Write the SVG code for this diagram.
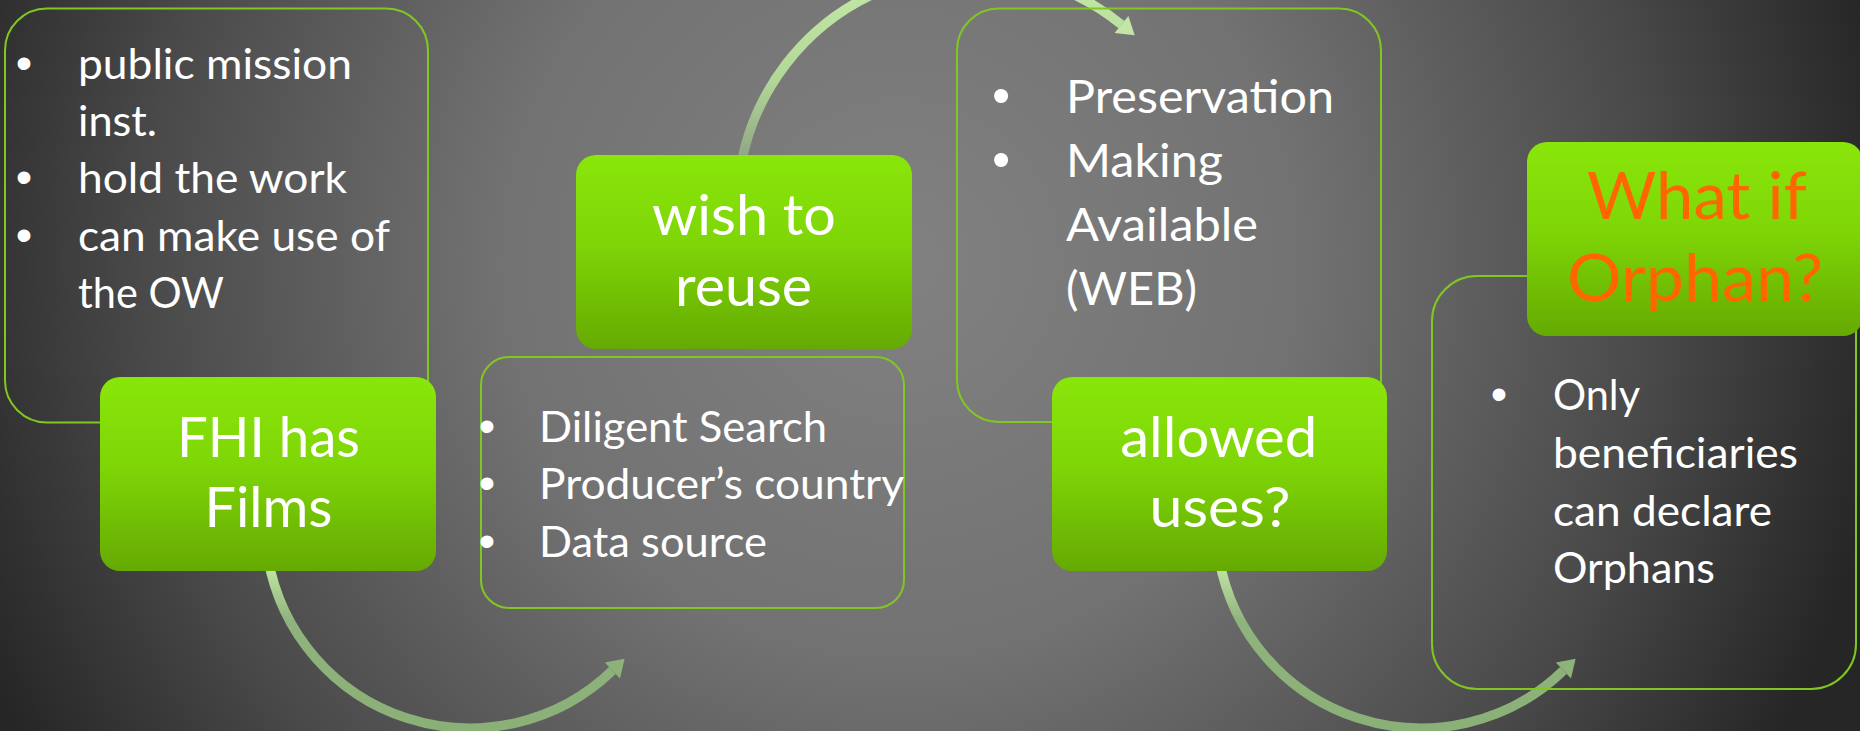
<svg xmlns="http://www.w3.org/2000/svg" width="1860" height="731" viewBox="0 0 1860 731">
  <defs>
    <radialGradient id="bg" gradientUnits="userSpaceOnUse" cx="900" cy="260" r="1000">
      <stop offset="0" stop-color="#818181"/>
      <stop offset="0.4" stop-color="#727272"/>
      <stop offset="0.75" stop-color="#4a4a4a"/>
      <stop offset="1" stop-color="#262626"/>
    </radialGradient>
    <linearGradient id="greenFill" x1="0" y1="0" x2="0" y2="1">
      <stop offset="0" stop-color="#89e60a"/>
      <stop offset="0.45" stop-color="#7fd607"/>
      <stop offset="1" stop-color="#65aa02"/>
    </linearGradient>
    <linearGradient id="arcLow" gradientUnits="userSpaceOnUse" x1="0" y1="560" x2="0" y2="735">
      <stop offset="0" stop-color="#c6eba8"/>
      <stop offset="0.35" stop-color="#8fb37c"/>
      <stop offset="1" stop-color="#8ab078"/>
    </linearGradient>
    <linearGradient id="arcHigh" gradientUnits="userSpaceOnUse" x1="0" y1="-30" x2="0" y2="170">
      <stop offset="0" stop-color="#c4e9a8"/>
      <stop offset="0.55" stop-color="#b2d898"/>
      <stop offset="1" stop-color="#8a9e82"/>
    </linearGradient>
  </defs>
  <style>
    .outline { fill: none; stroke: #80c820; stroke-width: 2; }
    .green { fill: url(#greenFill); }
    .body { font-family: Lato, "Liberation Sans", sans-serif; fill: #ffffff; }
    .bullet { font-family: "Liberation Sans", Arial, sans-serif; fill: #ffffff; text-anchor: middle; }
    .title { font-family: Lato, "Liberation Sans", sans-serif; fill: #ffffff; text-anchor: middle; font-size: 57px; }
    .orange { fill: #ff6600; font-size: 66px; }
    .arc { fill: none; stroke-width: 9.5; }
  </style>

  <rect x="0" y="0" width="1860" height="731" fill="url(#bg)"/>

  <g id="connectors">
    <g id="arrow-1">
      <path class="arc" stroke="url(#arcLow)" d="M268.1,558.6 A205,205 0 0 0 612.4,670.5"/>
      <polygon fill="#8db37a" points="624.6,658.7 620.0,678.4 604.8,662.6"/>
    </g>
    <g id="arrow-2">
      <path class="arc" stroke="url(#arcHigh)" d="M740.6,167 A236,236 0 0 1 1121.5,24.6"/>
      <polygon fill="#c2e6a6" points="1134.7,35.3 1128.4,16.1 1114.6,33.1"/>
    </g>
    <g id="arrow-3" transform="translate(951,0)">
      <path class="arc" stroke="url(#arcLow)" d="M268.1,558.6 A205,205 0 0 0 612.4,670.5"/>
      <polygon fill="#8db37a" points="624.6,658.7 620.0,678.4 604.8,662.6"/>
    </g>
  </g>

  <g id="detail-1">
    <rect class="outline" x="5" y="8.5" width="423" height="414" rx="42"/>
    <g font-size="47px">
      <text class="bullet" x="24" y="79">•</text>
      <text class="bullet" x="24" y="193.4">•</text>
      <text class="bullet" x="24" y="250.6">•</text>
    </g>
    <g class="body" font-size="42.5px">
      <text x="78" y="79" textLength="274" lengthAdjust="spacingAndGlyphs">public mission</text>
      <text x="78" y="136.2" textLength="79" lengthAdjust="spacingAndGlyphs">inst.</text>
      <text x="78" y="193.4" textLength="269" lengthAdjust="spacingAndGlyphs">hold the work</text>
      <text x="78" y="250.6" textLength="312" lengthAdjust="spacingAndGlyphs">can make use of</text>
      <text x="78" y="307.8" textLength="146" lengthAdjust="spacingAndGlyphs">the OW</text>
    </g>
  </g>

  <g id="detail-2">
    <rect class="outline" x="481" y="357" width="423" height="251" rx="28"/>
    <g font-size="47px">
      <text class="bullet" x="487" y="441.5">•</text>
      <text class="bullet" x="487" y="499">•</text>
      <text class="bullet" x="487" y="556.5">•</text>
    </g>
    <g class="body" font-size="42.5px">
      <text x="539" y="441.5" textLength="288" lengthAdjust="spacingAndGlyphs">Diligent Search</text>
      <text x="539" y="499" textLength="365" lengthAdjust="spacingAndGlyphs">Producer’s country</text>
      <text x="539" y="556.5" textLength="228" lengthAdjust="spacingAndGlyphs">Data source</text>
    </g>
  </g>

  <g id="detail-3">
    <rect class="outline" x="957" y="8.5" width="424" height="413.5" rx="42"/>
    <g font-size="52px">
      <text class="bullet" x="1001" y="113.3">•</text>
      <text class="bullet" x="1001" y="177.3">•</text>
    </g>
    <g class="body" font-size="47px">
      <text x="1066" y="113.3" textLength="268" lengthAdjust="spacingAndGlyphs">Preservation</text>
      <text x="1066" y="177.3" textLength="157" lengthAdjust="spacingAndGlyphs">Making</text>
      <text x="1066" y="241.2" textLength="192" lengthAdjust="spacingAndGlyphs">Available</text>
      <text x="1066" y="305.1" textLength="131" lengthAdjust="spacingAndGlyphs">(WEB)</text>
    </g>
  </g>

  <g id="detail-4">
    <rect class="outline" x="1432" y="276" width="424" height="413" rx="45"/>
    <g font-size="47px">
      <text class="bullet" x="1499" y="410">•</text>
    </g>
    <g class="body" font-size="42.5px">
      <text x="1553" y="410" textLength="87" lengthAdjust="spacingAndGlyphs">Only</text>
      <text x="1553" y="467.8" textLength="245" lengthAdjust="spacingAndGlyphs">beneficiaries</text>
      <text x="1553" y="525.6" textLength="219" lengthAdjust="spacingAndGlyphs">can declare</text>
      <text x="1553" y="583.4" textLength="162" lengthAdjust="spacingAndGlyphs">Orphans</text>
    </g>
  </g>

  <g id="node-fhi">
    <rect class="green" x="100" y="377" width="336" height="194" rx="20"/>
    <text class="title" x="268.5" y="457.3" textLength="183" lengthAdjust="spacingAndGlyphs">FHI has</text>
    <text class="title" x="268.5" y="526.7" textLength="128" lengthAdjust="spacingAndGlyphs">Films</text>
  </g>

  <g id="node-wish">
    <rect class="green" x="576" y="155" width="336" height="194" rx="20"/>
    <text class="title" x="744" y="235" textLength="184" lengthAdjust="spacingAndGlyphs">wish to</text>
    <text class="title" x="743.5" y="305.7" textLength="137" lengthAdjust="spacingAndGlyphs">reuse</text>
  </g>

  <g id="node-allowed">
    <rect class="green" x="1052" y="377" width="335" height="194" rx="20"/>
    <text class="title" x="1218.7" y="456.7" textLength="197" lengthAdjust="spacingAndGlyphs">allowed</text>
    <text class="title" x="1220" y="527" textLength="141" lengthAdjust="spacingAndGlyphs">uses?</text>
  </g>

  <g id="node-orphan">
    <rect class="green" x="1527" y="142" width="336" height="194" rx="20"/>
    <text class="title orange" x="1697" y="219" textLength="220" lengthAdjust="spacingAndGlyphs">What if</text>
    <text class="title orange" x="1695" y="301" textLength="256" lengthAdjust="spacingAndGlyphs">Orphan?</text>
  </g>
</svg>
